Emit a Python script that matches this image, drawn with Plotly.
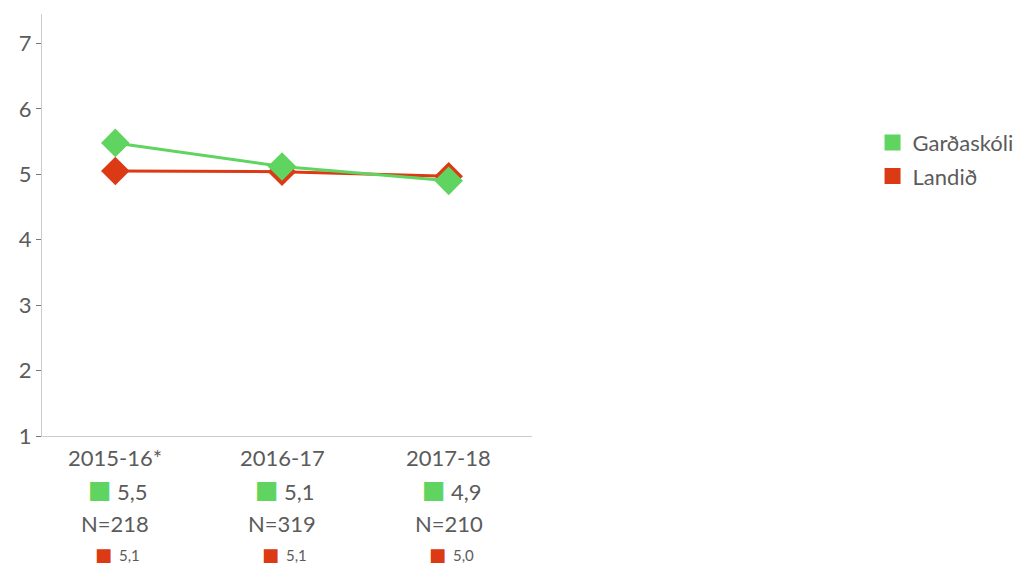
import plotly.graph_objects as go

categories = ["2015-16*", "2016-17", "2017-18"]
school_name = "Garðaskóli"
country_name = "Landið"
school_values = [5.48, 5.12, 4.90]
country_values = [5.05, 5.04, 4.97]
school_labels = ["5,5", "5,1", "4,9"]
country_labels = ["5,1", "5,1", "5,0"]
n_labels = ["N=218", "N=319", "N=210"]
y_ticks = [1, 2, 3, 4, 5, 6, 7]

GREEN = "#60d460"
RED = "#dc3a14"
TXT = "#5b5b5b"
FONT = "Lato"

xs = list(range(len(categories)))
fig = go.Figure()

fig.add_trace(go.Scatter(x=xs, y=country_values, mode="lines+markers", name=country_name,
                         line=dict(color=RED, width=3),
                         marker=dict(symbol="diamond", size=22, color=RED),
                         showlegend=False))
fig.add_trace(go.Scatter(x=xs, y=school_values, mode="lines+markers", name=school_name,
                         line=dict(color=GREEN, width=3),
                         marker=dict(symbol="diamond", size=22, color=GREEN),
                         showlegend=False))

# legend entries (square swatches)
for name, col in [(school_name, GREEN), (country_name, RED)]:
    fig.add_trace(go.Scatter(x=[None], y=[None], mode="markers", name=name, legendgroup=name,
                             marker=dict(symbol="square", size=19, color=col)))

annotations = []
for i, cat in enumerate(categories):
    annotations.append(dict(x=i, y=-0.05, xref="x", yref="paper", text=cat, showarrow=False,
                            yanchor="middle", font=dict(size=22, color=TXT, family=FONT)))
    # row 2: school value
    annotations.append(dict(x=i, y=-0.131, xref="x", yref="paper", text="■", showarrow=False,
                            xanchor="right", yanchor="middle", xshift=-1, yshift=2,
                            font=dict(size=25, color=GREEN, family="DejaVu Sans")))
    annotations.append(dict(x=i, y=-0.131, xref="x", yref="paper", text=school_labels[i],
                            showarrow=False, xanchor="left", yanchor="middle", xshift=0,
                            font=dict(size=22, color=TXT, family=FONT)))
    # row 3: N
    annotations.append(dict(x=i, y=-0.207, xref="x", yref="paper", text=n_labels[i], showarrow=False,
                            yanchor="middle", font=dict(size=22, color=TXT, family=FONT)))
    # row 4: country value
    annotations.append(dict(x=i, y=-0.283, xref="x", yref="paper", text="■", showarrow=False,
                            xanchor="right", yanchor="middle", xshift=-1, yshift=1,
                            font=dict(size=18, color=RED, family="DejaVu Sans")))
    annotations.append(dict(x=i, y=-0.283, xref="x", yref="paper", text=country_labels[i],
                            showarrow=False, xanchor="left", yanchor="middle", xshift=2,
                            font=dict(size=15, color=TXT, family=FONT)))

fig.update_layout(
    width=1034, height=566,
    margin=dict(l=42, r=502, t=14, b=130),
    paper_bgcolor="white", plot_bgcolor="white",
    font=dict(family=FONT, color=TXT, size=22),
    xaxis=dict(range=[-0.44, 2.5], showticklabels=False, showgrid=False, zeroline=False,
               showline=True, linecolor="#cccccc", linewidth=1, ticks=""),
    yaxis=dict(range=[1, 7.45], tickvals=y_ticks, showgrid=False, zeroline=False,
               showline=True, linecolor="#cccccc", linewidth=1,
               ticks="outside", ticklen=5, tickcolor="#777777",
               tickfont=dict(size=22, color=TXT, family=FONT)),
    legend=dict(x=1.695, y=0.745, xanchor="left", yanchor="top",
                font=dict(size=22, color=TXT, family=FONT), tracegroupgap=2),
    annotations=annotations,
    showlegend=True,
)

fig.write_html("out.html", config={"displayModeBar": False},
               post_script="document.body.style.margin='0';")
